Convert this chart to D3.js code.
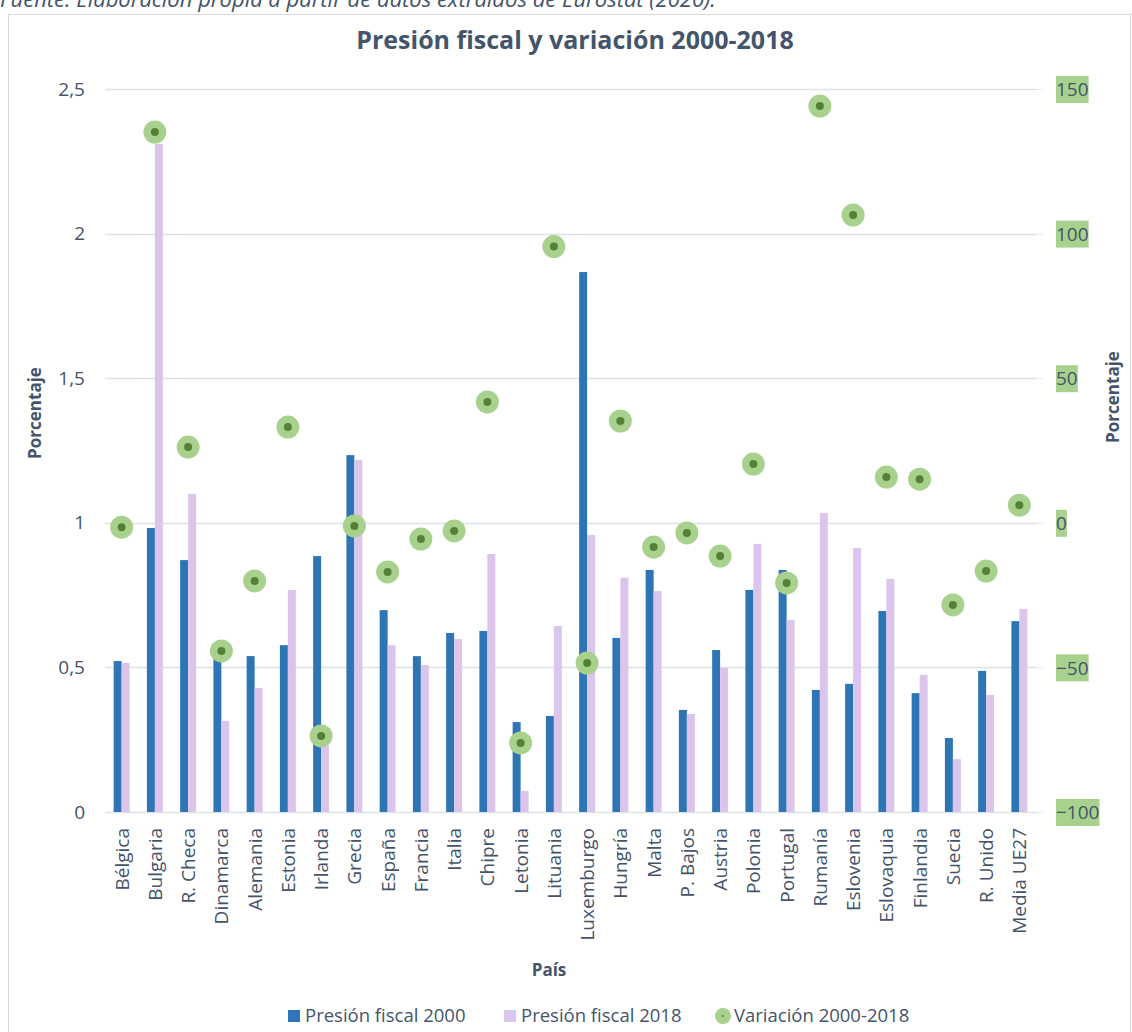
<!DOCTYPE html>
<html>
<head>
<meta charset="utf-8">
<script src="https://cdn.jsdelivr.net/npm/d3@7"></script>
<style>
  body { margin: 0; background: #fff; }
  text { font-family: "Open Sans", "Noto Sans", sans-serif; fill: #44546a; }
</style>
</head>
<body>
<div id="vis"></div>
<script>
// Data
var countries = ['Bélgica', 'Bulgaria', 'R. Checa', 'Dinamarca', 'Alemania', 'Estonia', 'Irlanda',
  'Grecia', 'España', 'Francia', 'Italia', 'Chipre', 'Letonia', 'Lituania', 'Luxemburgo', 'Hungría',
  'Malta', 'P. Bajos', 'Austria', 'Polonia', 'Portugal', 'Rumanía', 'Eslovenia', 'Eslovaquia',
  'Finlandia', 'Suecia', 'R. Unido', 'Media UE27'];

var presion2000 = [0.522, 0.982, 0.871, 0.55, 0.539, 0.577, 0.885, 1.234, 0.698, 0.539, 0.619, 0.626,
  0.311, 0.332, 1.867, 0.602, 0.837, 0.353, 0.56, 0.768, 0.837, 0.422, 0.443, 0.695, 0.411, 0.256,
  0.488, 0.66];

var presion2018 = [0.515, 2.31, 1.10, 0.315, 0.429, 0.768, 0.23, 1.217, 0.577, 0.508, 0.598, 0.892,
  0.073, 0.643, 0.958, 0.81, 0.764, 0.339, 0.498, 0.927, 0.664, 1.034, 0.913, 0.806, 0.474, 0.183,
  0.405, 0.702];

var variacion = [-1.5, 135.1, 26.2, -44.3, -20.1, 33.1, -73.7, -1.1, -17, -5.6, -2.8, 41.8, -76.1,
  95.5, -48.5, 35.2, -8.4, -3.5, -11.5, 20.3, -20.8, 144.1, 106.4, 15.8, 15.1, -28.4, -16.7, 6.1];

var leftTicks = [0, 0.5, 1, 1.5, 2, 2.5];
var rightTicks = [-100, -50, 0, 50, 100, 150];

var seriesNames = ['Presión fiscal 2000', 'Presión fiscal 2018', 'Variación 2000-2018'];

var width = 1132;
var height = 1032;
var margin = { top: 89, right: 96, bottom: 220, left: 105 };
var plotW = width - margin.left - margin.right;
var plotH = height - margin.top - margin.bottom;

var blue = '#2e75b6';
var lilac = '#dcc5ec';
var greenLight = '#a9d18e';
var greenDark = '#548235';
var gridColor = '#dde1e8';

var rows = countries.map(function (c, i) {
  return { name: c, p2000: presion2000[i], p2018: presion2018[i], v: variacion[i] };
});

var svg = d3.select('#vis').append('svg')
  .attr('width', width)
  .attr('height', height);

// outer chart frame
svg.append('rect')
  .attr('x', 8.5).attr('y', 14.5)
  .attr('width', 1122).attr('height', 1040)
  .attr('fill', 'none')
  .attr('stroke', '#d9d9d9');

// source note (partly above the picture, as in the original)
svg.append('text')
  .attr('x', 0).attr('y', 7)
  .style('font-style', 'italic')
  .style('font-size', '22px')
  .text('Fuente: Elaboración propia a partir de datos extraídos de Eurostat (2020).');

svg.append('text')
  .attr('x', 575).attr('y', 49)
  .attr('text-anchor', 'middle')
  .style('font-weight', 'bold')
  .style('font-size', '25px')
  .text('Presión fiscal y variación 2000-2018');

var g = svg.append('g').attr('transform', 'translate(' + margin.left + ',' + margin.top + ')');

var x0 = d3.scaleBand()
  .domain(countries)
  .range([0, plotW])
  .paddingInner(0.52)
  .paddingOuter(0.26);

var x1 = d3.scaleBand()
  .domain(['p2000', 'p2018'])
  .range([0, x0.bandwidth()]);

var yL = d3.scaleLinear().domain([0, 2.5]).range([plotH, 0]);
var yR = d3.scaleLinear().domain([-100, 150]).range([plotH, 0]);

var fmt = function (d) { return String(d).replace('.', ','); };

// gridlines
g.append('g')
  .selectAll('line')
  .data(leftTicks)
  .join('line')
  .attr('x1', 0).attr('x2', plotW)
  .attr('y1', function (d) { return Math.round(yL(d)) + 0.5; })
  .attr('y2', function (d) { return Math.round(yL(d)) + 0.5; })
  .attr('stroke', gridColor)
  .attr('stroke-width', 1.5);

// left axis
var leftAxis = g.append('g')
  .call(d3.axisLeft(yL).tickValues(leftTicks).tickFormat(fmt).tickSize(0).tickPadding(20));
leftAxis.select('.domain').remove();
leftAxis.selectAll('text').style('font-size', '19px').style('fill', '#44546a');

// right axis with green label boxes
var rightAxis = g.append('g')
  .attr('transform', 'translate(' + plotW + ',0)')
  .call(d3.axisRight(yR).tickValues(rightTicks).tickSize(7).tickPadding(13));
rightAxis.select('.domain').remove();
rightAxis.selectAll('line').attr('stroke', '#e2efd9');
rightAxis.selectAll('text')
  .style('font-size', '19px')
  .style('fill', '#44546a')
  .attr('dy', '0.35em');
rightAxis.selectAll('.tick').each(function () {
  var t = d3.select(this).select('text');
  var bb = t.node().getBBox();
  d3.select(this).insert('rect', 'text')
    .attr('x', bb.x).attr('y', -13.5)
    .attr('width', bb.width).attr('height', 27)
    .attr('fill', greenLight);
});

// bars
var groups = g.append('g')
  .selectAll('g')
  .data(rows)
  .join('g')
  .attr('transform', function (d) { return 'translate(' + x0(d.name) + ',0)'; });

groups.append('rect')
  .attr('x', x1('p2000'))
  .attr('y', function (d) { return yL(d.p2000); })
  .attr('width', x1.bandwidth())
  .attr('height', function (d) { return plotH - yL(d.p2000); })
  .attr('fill', blue);

groups.append('rect')
  .attr('x', x1('p2018'))
  .attr('y', function (d) { return yL(d.p2018); })
  .attr('width', x1.bandwidth())
  .attr('height', function (d) { return plotH - yL(d.p2018); })
  .attr('fill', lilac);

// variation markers on the secondary axis
var marks = g.append('g')
  .selectAll('g')
  .data(rows)
  .join('g')
  .attr('transform', function (d) {
    return 'translate(' + (x0(d.name) + x0.bandwidth() / 2) + ',' + yR(d.v) + ')';
  });
marks.append('circle').attr('r', 11.5).attr('fill', greenLight);
marks.append('circle').attr('r', 4).attr('fill', greenDark);

// category labels
g.append('g')
  .selectAll('text')
  .data(countries)
  .join('text')
  .attr('transform', function (d) {
    return 'translate(' + (x0(d) + x0.bandwidth() / 2 + 7) + ',' + (plotH + 16) + ') rotate(-90)';
  })
  .attr('text-anchor', 'end')
  .style('font-size', '19px')
  .text(function (d) { return d; });

// axis titles
svg.append('text')
  .attr('transform', 'translate(41,413) rotate(-90)')
  .attr('text-anchor', 'middle')
  .style('font-weight', 'bold')
  .style('font-size', '17px')
  .text('Porcentaje');

svg.append('text')
  .attr('transform', 'translate(1119,397) rotate(-90)')
  .attr('text-anchor', 'middle')
  .style('font-weight', 'bold')
  .style('font-size', '17px')
  .text('Porcentaje');

svg.append('text')
  .attr('x', 549).attr('y', 976)
  .attr('text-anchor', 'middle')
  .style('font-weight', 'bold')
  .style('font-size', '17px')
  .text('País');

// legend
var legend = svg.append('g').attr('transform', 'translate(0,1016)');
var legendX = [288, 504, 715];
var li = legend.selectAll('g')
  .data(seriesNames)
  .join('g')
  .attr('transform', function (d, i) { return 'translate(' + legendX[i] + ',0)'; });

li.each(function (d, i) {
  var s = d3.select(this);
  if (i < 2) {
    s.append('rect').attr('x', 0).attr('y', -6).attr('width', 12).attr('height', 12)
      .attr('fill', i === 0 ? blue : lilac);
  } else {
    s.append('circle').attr('cx', 8).attr('cy', 0).attr('r', 8).attr('fill', greenLight);
    s.append('circle').attr('cx', 8).attr('cy', 0).attr('r', 1).attr('fill', greenDark);
  }
  s.append('text')
    .attr('x', i < 2 ? 17 : 19)
    .attr('dy', '0.35em')
    .style('font-size', '18.5px')
    .text(d);
});
</script>
</body>
</html>
